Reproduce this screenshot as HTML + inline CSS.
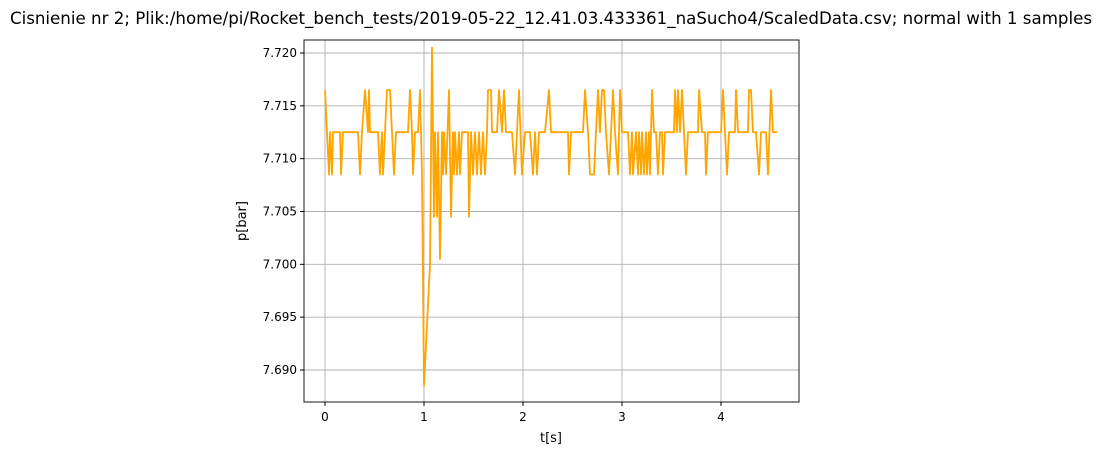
<!DOCTYPE html>
<html><head><meta charset="utf-8"><style>
body{margin:0;background:#fff;font-family:"Liberation Sans","DejaVu Sans",sans-serif}
</style></head><body>
<svg id="chart" width="1101" height="455" xmlns="http://www.w3.org/2000/svg" font-family="DejaVu Sans, Liberation Sans, sans-serif">
<text x="551" y="24" text-anchor="middle" font-size="16.67">Cisnienie nr 2; Plik:/home/pi/Rocket_bench_tests/2019-05-22_12.41.03.433361_naSucho4/ScaledData.csv; normal with 1 samples</text>
<g id="grid"></g><g id="ticks"></g>
<polyline id="series" fill="none" stroke="#ffa500" stroke-width="1.8" stroke-linejoin="round"/>
<rect x="304" y="40" width="495" height="362" fill="none" stroke="#000" stroke-width="0.9"/>
<text x="551" y="442" text-anchor="middle" font-size="13">t[s]</text>
<text transform="translate(246,221) rotate(-90)" text-anchor="middle" font-size="13">p[bar]</text>
</svg>
<script>
const H=7.7165,M=7.7125,L=7.7085;
const times=[0,0.040,0.051,0.071,0.081,0.152,0.162,0.182,0.333,0.354,0.374,0.404,0.434,0.444,0.455,0.535,0.556,0.576,0.586,0.606,0.626,0.657,0.677,0.697,0.717,0.838,0.859,0.879,0.889,0.909,0.939,0.960,0.980,1.000,1.061,1.081,1.101,1.111,1.131,1.141,1.162,1.182,1.192,1.202,1.222,1.253,1.273,1.293,1.303,1.313,1.333,1.354,1.364,1.384,1.444,1.455,1.475,1.495,1.515,1.535,1.556,1.576,1.596,1.616,1.636,1.646,1.677,1.687,1.737,1.758,1.788,1.808,1.828,1.889,1.919,1.960,1.990,2.020,2.071,2.101,2.121,2.141,2.162,2.222,2.263,2.283,2.455,2.465,2.485,2.606,2.626,2.657,2.677,2.717,2.758,2.778,2.798,2.818,2.838,2.869,2.909,2.929,2.960,2.980,3.000,3.061,3.081,3.101,3.111,3.141,3.162,3.172,3.192,3.202,3.222,3.242,3.253,3.273,3.283,3.303,3.323,3.343,3.364,3.384,3.404,3.414,3.434,3.525,3.535,3.556,3.566,3.586,3.606,3.626,3.646,3.667,3.768,3.778,3.808,3.838,3.848,3.869,4.000,4.020,4.040,4.061,4.081,4.141,4.152,4.172,4.273,4.283,4.303,4.323,4.354,4.384,4.404,4.455,4.475,4.505,4.525,4.566];
const pressures=[H,L,M,L,M,M,L,M,M,L,M,H,M,H,M,M,L,M,L,M,H,H,M,L,M,M,H,M,L,M,M,H,L,7.6885,7.7000,7.7205,7.7045,M,7.7045,M,7.7005,M,L,M,L,H,7.7045,M,L,M,L,M,L,M,M,7.7045,M,L,M,L,M,L,M,L,M,H,H,M,M,H,M,H,M,M,L,H,L,M,M,L,M,L,M,M,H,M,M,L,M,M,H,M,L,L,H,M,H,H,M,L,H,M,L,H,M,M,L,M,L,M,L,M,L,M,L,M,L,M,L,H,M,M,L,M,M,L,M,M,H,M,H,M,H,M,L,M,M,H,M,M,L,M,M,H,M,L,M,M,H,M,M,H,H,M,M,L,M,M,L,H,M,M];
const xTicks=[0,1,2,3,4];
const yTicks=[7.690,7.695,7.700,7.705,7.710,7.715,7.720];
const yLabels=["7.690","7.695","7.700","7.705","7.710","7.715","7.720"];
const sx=t=>325+99*t;
const sy=v=>370-(v-7.690)*10566.7;
const NS="http://www.w3.org/2000/svg";
const grid=document.getElementById('grid'),ticks=document.getElementById('ticks');
function mk(tag,attrs,parent){const e=document.createElementNS(NS,tag);for(const k in attrs)e.setAttribute(k,attrs[k]);parent.appendChild(e);return e;}
xTicks.forEach(t=>{
  const g=mk('line',{x1:sx(t),x2:sx(t),y1:40,y2:402,stroke:'#b0b0b0','stroke-width':0.9},grid);
  
  
  mk('line',{x1:sx(t),x2:sx(t),y1:402,y2:406,stroke:'#000'},ticks);
  const tx=mk('text',{x:sx(t),y:421,'text-anchor':'middle','font-size':12},ticks);
  tx.textContent=t;
  
  
});
yTicks.forEach((v,i)=>{
  const g=mk('line',{x1:304,x2:799,y1:sy(v),y2:sy(v),stroke:'#b0b0b0','stroke-width':0.9},grid);
  
  
  mk('line',{x1:300,x2:304,y1:sy(v),y2:sy(v),stroke:'#000'},ticks);
  const tx=mk('text',{x:297,y:sy(v)+4,'text-anchor':'end','font-size':12},ticks);
  tx.textContent=yLabels[i];
  
  
});
document.getElementById('series').setAttribute('points',times.map((t,i)=>sx(t).toFixed(1)+','+sy(pressures[i]).toFixed(1)).join(' '));
</script>
</body></html>
